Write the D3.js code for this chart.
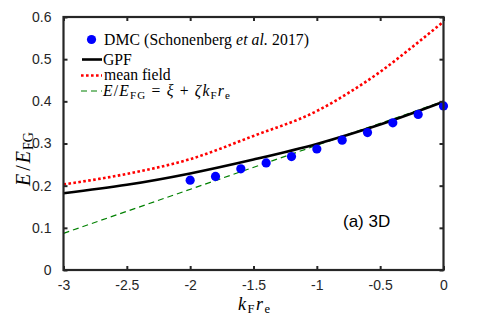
<!DOCTYPE html>
<html>
<head>
<meta charset="utf-8">
<script src="https://d3js.org/d3.v7.min.js"></script>
<style>
body { margin: 0; background: #fff; }
.tick text { font-family: "Liberation Sans", Arial, sans-serif; font-size: 14px; fill: #262626; }
.serif { font-family: "Liberation Serif", "Times New Roman", serif; }
</style>
</head>
<body>
<div id="chart"></div>
<script>
// DMC points (Schonenberg et al. 2017)
var dmcK = [-2, -1.8, -1.6, -1.4, -1.2, -1, -0.8, -0.6, -0.4, -0.2, 0];
var dmcE = [0.213, 0.222, 0.240, 0.254, 0.269, 0.287, 0.308, 0.326, 0.349, 0.369, 0.389];

// GPF curve
var gpfK = [-3, -2.5, -2, -1.5, -1, -0.5, 0];
var gpfE = [0.182, 0.202, 0.229, 0.262, 0.299, 0.345, 0.399];

// mean field curve
var mfK = [-3, -2.5, -2, -1.5, -1, -0.75, -0.5, -0.25, 0];
var mfE = [0.203, 0.228, 0.263, 0.318, 0.377, 0.420, 0.470, 0.528, 0.589];

// linear fit E/EFG = xi + zeta kF re
var fitK = [-3, 0];
var fitE = [0.087, 0.400];

var xTicks = [-3, -2.5, -2, -1.5, -1, -0.5, 0];
var yTicks = [0, 0.1, 0.2, 0.3, 0.4, 0.5, 0.6];

var W = 491, H = 317;
var margin = {top: 17, right: 47.5, bottom: 47, left: 63.5},
	width = W - margin.left - margin.right,
	height = H - margin.top - margin.bottom;

var svg = d3.select("#chart").append("svg")
	.attr("width", W)
	.attr("height", H);

var g = svg.append("g")
	.attr("transform", "translate(" + margin.left + "," + margin.top + ")");

var x = d3.scaleLinear().domain([-3, 0]).range([0, width]);
var y = d3.scaleLinear().domain([0, 0.6]).range([height, 0]);

var line = d3.line()
	.x(function (d) { return x(d[0]); })
	.y(function (d) { return y(d[1]); })
	.curve(d3.curveMonotoneX);

function zip(a, b) { return a.map(function (v, i) { return [v, b[i]]; }); }
// matlab style labels, plain hyphen for minus
function fmt(d) { return String(d); }

var plot = g.append("g");

plot.append("path")
	.datum(zip(fitK, fitE))
	.attr("fill", "none")
	.attr("stroke", "#008000")
	.attr("stroke-width", 1.2)
	.attr("stroke-dasharray", "6,4")
	.attr("d", line);

plot.append("path")
	.datum(zip(mfK, mfE))
	.attr("fill", "none")
	.attr("stroke", "#ff0000")
	.attr("stroke-width", 2.6)
	.attr("stroke-dasharray", "2.6,2.4")
	.attr("d", line);

plot.append("path")
	.datum(zip(gpfK, gpfE))
	.attr("fill", "none")
	.attr("stroke", "#000")
	.attr("stroke-width", 2.6)
	.attr("d", line);

plot.selectAll("circle")
	.data(zip(dmcK, dmcE))
	.enter()
	.append("circle")
	.attr("cx", function (d) { return x(d[0]); })
	.attr("cy", function (d) { return y(d[1]); })
	.attr("r", 4.6)
	.attr("fill", "#0000ff");

// axes with inward ticks on all sides
var axisColor = "#262626";
g.append("g")
	.attr("transform", "translate(0," + height + ")")
	.call(d3.axisBottom(x).tickValues(xTicks).tickSizeInner(-4).tickSizeOuter(0).tickPadding(10).tickFormat(fmt))
	.call(function (a) { a.select(".domain").remove(); });
g.append("g")
	.call(d3.axisTop(x).tickValues(xTicks).tickSizeInner(-4).tickSizeOuter(0).tickFormat(""))
	.call(function (a) { a.select(".domain").remove(); });
g.append("g")
	.call(d3.axisLeft(y).tickValues(yTicks).tickSizeInner(-4).tickSizeOuter(0).tickPadding(12).tickFormat(fmt))
	.call(function (a) { a.select(".domain").remove(); });
g.append("g")
	.attr("transform", "translate(" + width + ",0)")
	.call(d3.axisRight(y).tickValues(yTicks).tickSizeInner(-4).tickSizeOuter(0).tickFormat(""))
	.call(function (a) { a.select(".domain").remove(); });
g.selectAll(".tick line").attr("stroke", axisColor).attr("stroke-width", 2);

g.append("rect")
	.attr("width", width)
	.attr("height", height)
	.attr("fill", "none")
	.attr("stroke", axisColor)
	.attr("stroke-width", 2.2);

// legend
var lg = svg.append("g").attr("class", "serif").attr("font-size", 15.7).attr("fill", "#000");
lg.append("circle").attr("cx", 91.5).attr("cy", 39.5).attr("r", 4.6).attr("fill", "#0000ff");
var t1 = lg.append("text").attr("x", 104).attr("y", 44.5)
	.attr("textLength", 205).attr("lengthAdjust", "spacing");
t1.append("tspan").text("DMC (Schonenberg ");
t1.append("tspan").attr("font-style", "italic").text("et al.");
t1.append("tspan").text(" 2017)");

lg.append("line").attr("x1", 82).attr("x2", 102).attr("y1", 59.5).attr("y2", 59.5)
	.attr("stroke", "#000").attr("stroke-width", 2.6);
lg.append("text").attr("x", 103).attr("y", 64.5).text("GPF");

lg.append("line").attr("x1", 81).attr("x2", 102).attr("y1", 75.5).attr("y2", 75.5)
	.attr("stroke", "#ff0000").attr("stroke-width", 2.6).attr("stroke-dasharray", "2.6,2.4");
lg.append("text").attr("x", 104).attr("y", 80).text("mean field");

lg.append("line").attr("x1", 81).attr("x2", 102).attr("y1", 91).attr("y2", 91)
	.attr("stroke", "#008000").attr("stroke-width", 1.2).attr("stroke-dasharray", "6,4");
var t4 = lg.append("text").attr("x", 103).attr("y", 95.5)
	.attr("textLength", 127).attr("lengthAdjust", "spacing");
t4.append("tspan").attr("font-style", "italic").text("E");
t4.append("tspan").text("/");
t4.append("tspan").attr("font-style", "italic").text("E");
t4.append("tspan").attr("font-size", 11).attr("dy", 3).text("FG");
t4.append("tspan").attr("dy", -3).text(" = ");
t4.append("tspan").attr("font-style", "italic").text("ξ");
t4.append("tspan").text(" + ");
t4.append("tspan").attr("font-style", "italic").text("ζk");
t4.append("tspan").attr("font-size", 11).attr("dy", 3).text("F");
t4.append("tspan").attr("font-style", "italic").attr("dy", -3).text("r");
t4.append("tspan").attr("font-size", 11).attr("dy", 3).text("e");

// panel label
svg.append("text")
	.attr("x", 343)
	.attr("y", 227)
	.attr("font-family", "Liberation Sans, Arial, sans-serif")
	.attr("font-size", 17)
	.text("(a) 3D");

// axis labels
var xl = svg.append("text").attr("class", "serif").attr("font-size", 18)
	.attr("x", 238).attr("y", 310)
	.attr("textLength", 32).attr("lengthAdjust", "spacing");
xl.append("tspan").attr("font-style", "italic").text("k");
xl.append("tspan").attr("font-size", 12.5).attr("dy", 3).text("F");
xl.append("tspan").attr("font-style", "italic").attr("dy", -3).text("r");
xl.append("tspan").attr("font-size", 12.5).attr("dy", 3).text("e");

var yl = svg.append("text").attr("class", "serif").attr("font-size", 20)
	.attr("transform", "translate(30,186) rotate(-90)");
yl.append("tspan").attr("font-style", "italic").text("E");
yl.append("tspan").attr("dx", 3).text("/");
yl.append("tspan").attr("dx", 2).attr("font-style", "italic").text("E");
yl.append("tspan").attr("dx", 1).attr("font-size", 14).attr("dy", 3).text("FG");
</script>
</body>
</html>
